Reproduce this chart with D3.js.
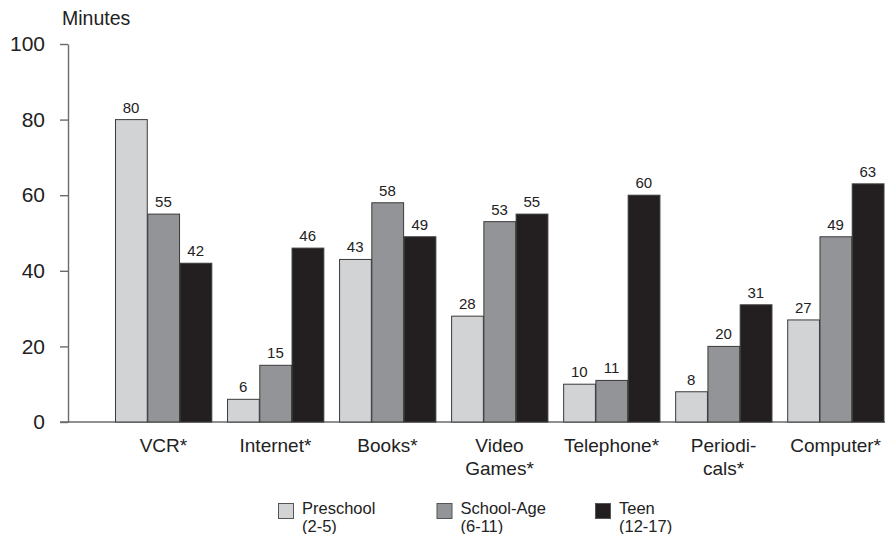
<!DOCTYPE html>
<html>
<head>
<meta charset="utf-8">
<script src="https://cdn.jsdelivr.net/npm/d3@7"></script>
<style>
  html, body { margin: 0; padding: 0; background: #fff; }
  svg { display: block; font-family: "Liberation Sans", Arial, Helvetica, sans-serif; }
</style>
</head>
<body>
<svg id="chart" width="890" height="534"></svg>
<script>
// Media categories (label lines) and minutes per day for each age group
const categories = ["VCR*", "Internet*", "Books*", "Video Games*", "Telephone*", "Periodicals*", "Computer*"];
const categoryLines = [["VCR*"], ["Internet*"], ["Books*"], ["Video", "Games*"], ["Telephone*"], ["Periodi-", "cals*"], ["Computer*"]];
const seriesNames = ["Preschool", "School-Age", "Teen"];
const seriesSub = ["(2-5)", "(6-11)", "(12-17)"];
const preschool = [80, 6, 43, 28, 10, 8, 27];
const schoolAge = [55, 15, 58, 53, 11, 20, 49];
const teen = [42, 46, 49, 55, 60, 31, 63];
const yTicks = [0, 20, 40, 60, 80, 100];
const colors = ["#d2d3d5", "#929497", "#231f20"];

const seriesValues = [preschool, schoolAge, teen];

const svg = d3.select("#chart");
const axisColor = "#6b6b6b";

const y = d3.scaleLinear().domain([0, 100]).range([422, 44]);
const x0 = d3.scaleBand().domain(categories).range([115, 884]).paddingInner(0.136).paddingOuter(0);
const x1 = d3.scaleBand().domain(seriesNames).range([0, x0.bandwidth()]).padding(0);

// Y axis
const yAxis = svg.append("g").attr("transform", "translate(68,0)")
  .call(d3.axisLeft(y).tickValues(yTicks).tickSize(8).tickPadding(15).tickSizeOuter(0));
yAxis.select(".domain").attr("stroke", axisColor).attr("stroke-width", 1.4);
yAxis.selectAll(".tick line").attr("stroke", axisColor).attr("stroke-width", 1.4);
yAxis.selectAll(".tick text").attr("fill", "#222").style("font-size", "21px")
  .style("font-family", "'Liberation Sans', Arial, sans-serif");

// Baseline
svg.append("line")
  .attr("x1", 60).attr("x2", 885)
  .attr("y1", y(0)).attr("y2", y(0))
  .attr("stroke", axisColor).attr("stroke-width", 1.4);

// Axis title
svg.append("text")
  .attr("x", 62).attr("y", 25)
  .attr("fill", "#222")
  .style("font-size", "19.5px")
  .text("Minutes");

// Bars and value labels
const groups = svg.selectAll("g.cat")
  .data(categories)
  .join("g")
  .attr("class", "cat")
  .attr("transform", d => `translate(${x0(d)},0)`);

groups.each(function (cat, ci) {
  const g = d3.select(this);
  seriesNames.forEach((s, si) => {
    const v = seriesValues[si][ci];
    g.append("rect")
      .attr("x", x1(s) + 0.5)
      .attr("y", y(v))
      .attr("width", x1.bandwidth() - 0.5)
      .attr("height", y(0) - y(v))
      .attr("fill", colors[si])
      .attr("stroke", "#3a3a3a")
      .attr("stroke-width", 1);
    g.append("text")
      .attr("x", x1(s) + x1.bandwidth() / 2)
      .attr("y", y(v) - 7)
      .attr("text-anchor", "middle")
      .attr("fill", "#222")
      .style("font-size", "15px")
      .text(v);
  });
});

// Category labels
categories.forEach((cat, ci) => {
  const t = svg.append("text")
    .attr("x", x0(cat) + x0.bandwidth() / 2)
    .attr("y", 452)
    .attr("text-anchor", "middle")
    .attr("fill", "#222")
    .style("font-size", "19px");
  categoryLines[ci].forEach((line, li) => {
    t.append("tspan")
      .attr("x", x0(cat) + x0.bandwidth() / 2)
      .attr("dy", li === 0 ? 0 : 23)
      .text(line);
  });
});

// Legend
const legendX = d3.scalePoint().domain(seriesNames).range([278, 595]);
seriesNames.forEach((s, si) => {
  const lx = legendX(s);
  svg.append("rect")
    .attr("x", lx + 0.5).attr("y", 503.5)
    .attr("width", 15).attr("height", 15)
    .attr("fill", colors[si])
    .attr("stroke", "#555").attr("stroke-width", 1);
  const t = svg.append("text")
    .attr("x", lx + 24).attr("y", 514)
    .attr("fill", "#222")
    .style("font-size", "16.5px");
  t.append("tspan").attr("x", lx + 24).text(s);
  t.append("tspan").attr("x", lx + 24).attr("dy", 18).text(seriesSub[si]);
});
</script>
</body>
</html>
